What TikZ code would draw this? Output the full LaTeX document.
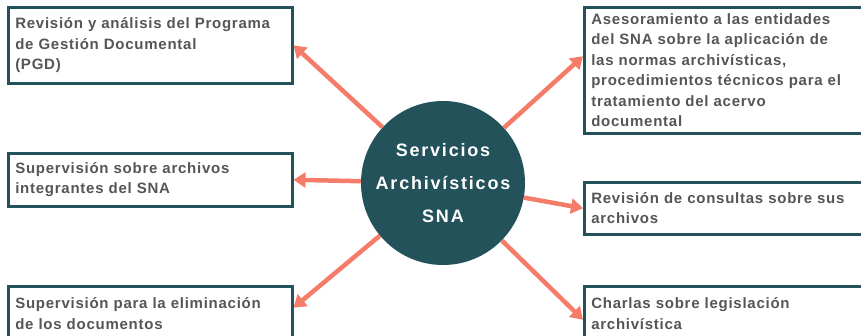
\documentclass[tikz,border=0pt]{standalone}
\usepackage{fontspec}
\setmainfont{Liberation Sans}
\usetikzlibrary{arrows.meta}
\definecolor{snateal}{HTML}{23525A}
\definecolor{snasalmon}{HTML}{F47C68}
\definecolor{snagray}{HTML}{555555}
\begin{document}
\begin{tikzpicture}[x=1pt, y=-1pt,
    servbox/.style={draw=snateal, line width=2.5pt, anchor=north west, minimum width=281pt,
      text width=270pt, align=left, inner xsep=7pt, text=snagray,
      font=\bfseries\fontsize{15}{20.5}\selectfont\addfontfeature{LetterSpace=5}},
    servline/.style={draw=snasalmon, line width=4.5pt, -{Triangle[width=15pt,length=12pt]}}]
    \useasboundingbox (0,0) rectangle (861,335);
    \node[servbox, minimum height=76pt] (revision) at (7,6)
        {Revisión y análisis del Programa\\de Gestión Documental\\(PGD)};
    \node[servbox, minimum height=53pt] (supervision) at (7,152)
        {Supervisión sobre archivos\\integrantes del SNA};
    \node[servbox, minimum height=55pt] (eliminacion) at (7,285)
        {Supervisión para la eliminación\\de los documentos};
    \node[servbox, minimum height=126pt] (asesoria) at (583,6)
        {Asesoramiento a las entidades\\del SNA sobre la aplicación de\\las normas archivísticas,\\procedimientos técnicos para el\\tratamiento del acervo\\documental};
    \node[servbox, minimum height=52pt] (consulta) at (583,181)
        {Revisión de consultas sobre sus\\archivos};
    \node[servbox, minimum height=55pt] (charlas) at (583,285)
        {Charlas sobre legislación\\archivística};
    \node[circle, fill=snateal, minimum size=164pt, inner sep=0pt, align=center, text=white,
        font=\bfseries\fontsize{18}{33}\selectfont\addfontfeature{LetterSpace=10}] (servicios) at (443,183)
        {Servicios\\Archivísticos\\SNA};
    \draw[servline] (servicios) -- (revision.east);
    \draw[servline] (servicios) -- (supervision.east);
    \draw[servline] (servicios) -- ([yshift=6pt]eliminacion.east);
    \draw[servline] (servicios) -- ([yshift=14pt]asesoria.west);
    \draw[servline] (servicios) -- (consulta.west);
    \draw[servline] (servicios) -- ([yshift=-6pt]charlas.west);
\end{tikzpicture}
\end{document}
